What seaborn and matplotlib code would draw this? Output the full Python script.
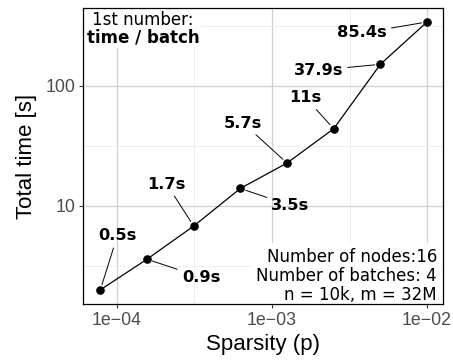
import numpy as np
import pandas as pd
import matplotlib
matplotlib.use("Agg")
import matplotlib.pyplot as plt
from matplotlib.ticker import FixedLocator, NullFormatter
import seaborn as sns

# data
sparsity = [7.8125e-5, 1.5625e-4, 3.125e-4, 6.25e-4, 1.25e-3, 2.5e-3, 5e-3, 1e-2]
total_time = [2.0, 3.6, 6.8, 14.0, 22.8, 44.0, 151.6, 341.6]
batch_labels = ["0.5s", "0.9s", "1.7s", "3.5s", "5.7s", "11s", "37.9s", "85.4s"]

x_ticks = [1e-4, 1e-3, 1e-2]
x_tick_labels = ["1e\u221204", "1e\u221203", "1e\u221202"]
y_ticks = [10, 100]
y_tick_labels = ["10", "100"]

info_lines = ["Number of nodes:16", "Number of batches: 4", "n = 10k, m = 32M"]

# label offsets (pixels) from each point, like ggrepel placed them
label_offsets = [(17, 54), (54, -18), (-27, 42), (50, -17),
                 (-44, 40), (-28, 31), (-62, -6), (-65, -11)]

sns.set_theme(style="whitegrid")
plt.rcParams["font.family"] = ["DejaVu Sans"]
plt.rcParams["text.color"] = "black"
plt.rcParams["axes.labelcolor"] = "black"

df = pd.DataFrame({"sparsity": sparsity, "time": total_time})

fig = plt.figure(figsize=(4.53, 3.6), dpi=100)
ax = fig.add_axes([83 / 453, 1 - 304 / 360, 360 / 453, 296 / 360])

sns.lineplot(data=df, x="sparsity", y="time", ax=ax, color="black", lw=0.9,
             marker="o", markersize=6.2, markeredgecolor="black", markeredgewidth=0)

ax.set_xscale("log")
ax.set_yscale("log")
ax.set_xlim(10 ** -4.219, 10 ** -1.897)
ax.set_ylim(10 ** 0.183, 10 ** 2.65)

ax.xaxis.set_major_locator(FixedLocator(x_ticks))
ax.set_xticklabels(x_tick_labels)
ax.xaxis.set_minor_locator(FixedLocator([10 ** -3.5, 10 ** -2.5]))
ax.xaxis.set_minor_formatter(NullFormatter())
ax.yaxis.set_major_locator(FixedLocator(y_ticks))
ax.set_yticklabels(y_tick_labels)
ax.yaxis.set_minor_locator(FixedLocator([10 ** 0.5, 10 ** 1.5, 10 ** 2.5]))
ax.yaxis.set_minor_formatter(NullFormatter())

ax.grid(True, which="major", color="#d0d0d0", lw=0.9)
ax.grid(True, which="minor", color="#ececec", lw=0.6)
ax.set_axisbelow(True)

for sp in ax.spines.values():
    sp.set_color("black")
    sp.set_linewidth(0.9)

ax.tick_params(axis="both", which="major", length=3, width=0.8, color="#333333",
               labelcolor="#4d4d4d", labelsize=12.8, pad=2.5, bottom=True, left=True)
ax.tick_params(axis="both", which="minor", length=0)
for lab in ax.get_xticklabels() + ax.get_yticklabels():
    lab.set_fontfamily(["Liberation Sans", "DejaVu Sans"])

ax.set_xlabel("Sparsity (p)", fontsize=16, family="Liberation Sans", labelpad=4)
ax.set_ylabel("Total time [s]", fontsize=16, family="Liberation Sans", labelpad=6)

for xv, yv, lab, (dx, dy) in zip(sparsity, total_time, batch_labels, label_offsets):
    ax.annotate(lab, xy=(xv, yv), xytext=(dx, dy), textcoords="offset pixels",
                ha="center", va="center", fontsize=11.7, fontweight="bold",
                color="black",
                arrowprops=dict(arrowstyle="-", color="black", lw=0.7,
                                shrinkA=1, shrinkB=4))

ax.text(0.1667, 0.959, "1st number:", transform=ax.transAxes, ha="center", va="center",
        fontsize=12, zorder=2.4,
        bbox=dict(facecolor="white", edgecolor="none", pad=1.5))
ax.text(0.1667, 0.902, "time / batch", transform=ax.transAxes, ha="center", va="center",
        fontsize=12, fontweight="bold", zorder=2.4,
        bbox=dict(facecolor="white", edgecolor="none", pad=1.5))

ax.text(0.983, 0.0946, "\n".join(info_lines), transform=ax.transAxes,
        ha="right", va="center", multialignment="right", linespacing=1.1,
        fontsize=12, zorder=2.4, clip_on=True,
        bbox=dict(facecolor="white", edgecolor="none", pad=3))

fig.savefig("out.png", dpi=100)
plt.close(fig)
